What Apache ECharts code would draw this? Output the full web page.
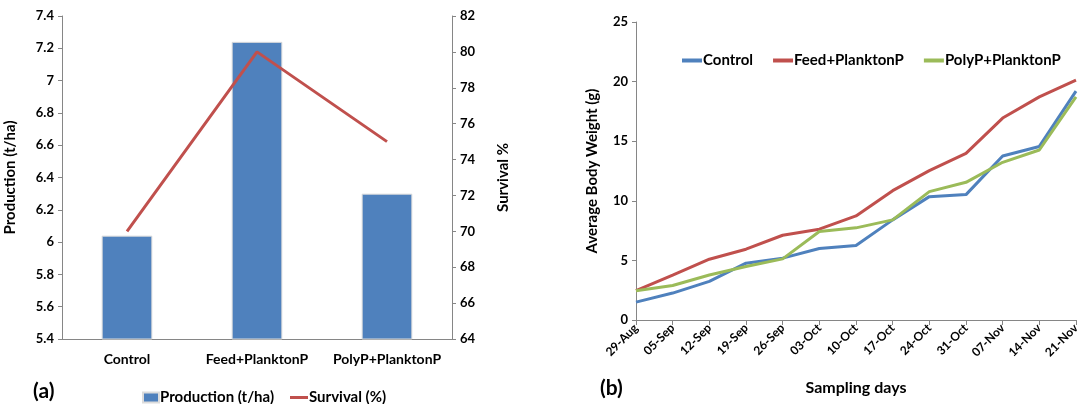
<!DOCTYPE html>
<html>
<head>
<meta charset="utf-8">
<script src="https://cdn.jsdelivr.net/npm/echarts@6/dist/echarts.min.js"></script>
<style>
  html, body { margin: 0; padding: 0; background: #fff; }
  #chart { width: 1089px; height: 404px; }
</style>
</head>
<body>
<div id="chart"></div>
<script>
// (a) production and survival per treatment
const treatments = ['Control', 'Feed+PlanktonP', 'PolyP+PlanktonP'];
const production = [6.04, 7.24, 6.30];
const survival = [70, 80, 75];

// (b) average body weight per sampling day
const samplingDays = ['29-Aug', '05-Sep', '12-Sep', '19-Sep', '26-Sep', '03-Oct', '10-Oct',
  '17-Oct', '24-Oct', '31-Oct', '07-Nov', '14-Nov', '21-Nov'];
const weightControl = [1.5, 2.26, 3.24, 4.77, 5.19, 6.0, 6.25, 8.4, 10.35, 10.52, 13.76, 14.56, 19.2];
const weightFeed = [2.46, 3.77, 5.1, 5.94, 7.11, 7.62, 8.73, 10.85, 12.53, 13.98, 16.94, 18.72, 20.12];
const weightPoly = [2.46, 2.9, 3.77, 4.49, 5.13, 7.42, 7.73, 8.4, 10.77, 11.55, 13.23, 14.26, 18.72];

const font = 'Lato';
const axisGray = '#868686';
const txt = { color: '#000', fontFamily: font, fontWeight: 'bold' };

const chart = echarts.init(document.getElementById('chart'));
chart.setOption({
  animation: false,
  textStyle: { fontFamily: font },
  grid: [
    { left: 62, top: 16, width: 390, height: 323 },
    { left: 636, top: 22, width: 440, height: 298 }
  ],
  legend: [
    {
      left: 137, top: 385,
      itemWidth: 16, itemHeight: 10,
      textStyle: Object.assign({ fontSize: 15, padding: [0, 0, 0, -4] }, txt),
      data: [{ name: 'Production (t/ha)', icon: 'rect' }]
    },
    {
      left: 285, top: 385,
      itemWidth: 18, itemHeight: 3,
      textStyle: Object.assign({ fontSize: 15, padding: [0, 0, 0, -4] }, txt),
      data: [{ name: 'Survival (%)', icon: 'rect' }]
    },
    {
      left: 677, top: 48,
      itemWidth: 20, itemHeight: 4, itemGap: 20,
      textStyle: Object.assign({ fontSize: 15, padding: [0, 0, 0, -4] }, txt),
      data: [
        { name: 'Control', icon: 'rect' },
        { name: 'Feed+PlanktonP', icon: 'rect' },
        { name: 'PolyP+PlanktonP', icon: 'rect' }
      ]
    }
  ],
  xAxis: [
    {
      type: 'category', gridIndex: 0, data: treatments,
      axisLine: { lineStyle: { color: axisGray } },
      axisTick: { length: 5, lineStyle: { color: axisGray } },
      axisLabel: Object.assign({ fontSize: 14, margin: 13, interval: 0 }, txt)
    },
    {
      type: 'category', gridIndex: 1, data: samplingDays, boundaryGap: false,
      name: 'Sampling days', nameLocation: 'middle', nameGap: 60,
      nameTextStyle: Object.assign({ fontSize: 16 }, txt),
      axisLine: { lineStyle: { color: axisGray } },
      axisTick: { length: 5, lineStyle: { color: axisGray } },
      axisLabel: Object.assign({ fontSize: 12, rotate: 45, margin: 6, interval: 0 }, txt)
    }
  ],
  yAxis: [
    {
      type: 'value', gridIndex: 0, min: 5.4, max: 7.4, interval: 0.2,
      name: 'Production (t/ha)', nameLocation: 'middle', nameGap: 44,
      nameTextStyle: Object.assign({ fontSize: 15 }, txt),
      axisLine: { show: true, lineStyle: { color: axisGray } },
      axisTick: { show: true, length: 4, lineStyle: { color: axisGray } },
      splitLine: { show: false },
      axisLabel: Object.assign({ fontSize: 13, margin: 8 }, txt)
    },
    {
      type: 'value', gridIndex: 0, position: 'right', min: 64, max: 82, interval: 2,
      name: 'Survival %', nameLocation: 'middle', nameGap: 44, nameRotate: 90,
      nameTextStyle: Object.assign({ fontSize: 15 }, txt),
      axisLine: { show: true, lineStyle: { color: axisGray } },
      axisTick: { show: true, length: 4, lineStyle: { color: axisGray } },
      splitLine: { show: false },
      axisLabel: Object.assign({ fontSize: 13, margin: 8 }, txt)
    },
    {
      type: 'value', gridIndex: 1, min: 0, max: 25, interval: 5,
      name: 'Average Body Weight (g)', nameLocation: 'middle', nameGap: 36,
      nameTextStyle: Object.assign({ fontSize: 15 }, txt),
      axisLine: { show: true, lineStyle: { color: axisGray } },
      axisTick: { show: true, length: 4, lineStyle: { color: axisGray } },
      splitLine: { show: false },
      axisLabel: Object.assign({ fontSize: 13, margin: 8 }, txt)
    }
  ],
  series: [
    {
      name: 'Production (t/ha)', type: 'bar', xAxisIndex: 0, yAxisIndex: 0,
      data: production, barWidth: '39%',
      itemStyle: { color: '#4F81BD', borderColor: '#dcdcdc', borderWidth: 1 }
    },
    {
      name: 'Survival (%)', type: 'line', xAxisIndex: 0, yAxisIndex: 1,
      data: survival, symbol: 'none',
      lineStyle: { color: '#C0504D', width: 3 }, itemStyle: { color: '#C0504D' }
    },
    {
      name: 'Control', type: 'line', xAxisIndex: 1, yAxisIndex: 2,
      data: weightControl, symbol: 'none',
      lineStyle: { color: '#4F81BD', width: 3 }, itemStyle: { color: '#4F81BD' }
    },
    {
      name: 'Feed+PlanktonP', type: 'line', xAxisIndex: 1, yAxisIndex: 2,
      data: weightFeed, symbol: 'none',
      lineStyle: { color: '#C0504D', width: 3 }, itemStyle: { color: '#C0504D' }
    },
    {
      name: 'PolyP+PlanktonP', type: 'line', xAxisIndex: 1, yAxisIndex: 2,
      data: weightPoly, symbol: 'none',
      lineStyle: { color: '#9BBB59', width: 3 }, itemStyle: { color: '#9BBB59' }
    }
  ],
  graphic: [
    { type: 'text', left: 33, top: 381, style: { text: '(a)', fontSize: 21, fontWeight: 'bold', fontFamily: font, fill: '#000' } },
    { type: 'text', left: 600, top: 378, style: { text: '(b)', fontSize: 21, fontWeight: 'bold', fontFamily: font, fill: '#000' } }
  ]
});
</script>
</body>
</html>
